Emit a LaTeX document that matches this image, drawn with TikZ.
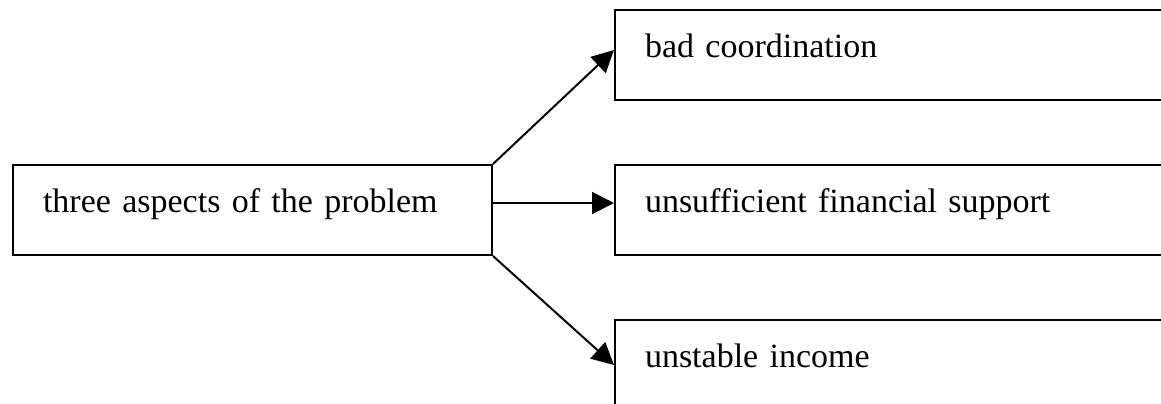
\documentclass[tikz,border=0pt]{standalone}
\usepackage{fontspec}
\setmainfont{Liberation Serif}
\usetikzlibrary{arrows.meta,positioning}
\begin{document}
\begin{tikzpicture}[
  font=\fontsize{17}{20.5}\selectfont,
  box/.style={draw, line width=1pt, inner xsep=15pt, inner ysep=0pt, align=left,
              text height=23.75pt, text depth=21.25pt},
  cause/.style={box, text width=209.5pt}, aspect/.style={box, text width=250pt},
  arr/.style={line width=1pt, -{Triangle[length=11pt,width=11pt]}},
  node distance=31.5pt and 60.5pt]
\useasboundingbox (0,0) rectangle (580.5pt,-201.5pt);
\clip (0,0) rectangle (580.5pt,-201.5pt);
\node[cause, anchor=north west] (problem) at (6pt,-82pt) {three aspects of the problem};
\node[aspect, right=of problem] (support) {unsufficient financial support};
\node[aspect, above=of support] (coord) {bad coordination};
\node[aspect, below=of support] (income) {unstable income};
\draw[arr] (problem.north east) -- ([yshift=2.5pt]coord.west);
\draw[arr] ([yshift=3.5pt]problem.east) -- ([yshift=3.5pt]support.west);
\draw[arr] (problem.south east) -- (income.west);
\end{tikzpicture}
\end{document}
